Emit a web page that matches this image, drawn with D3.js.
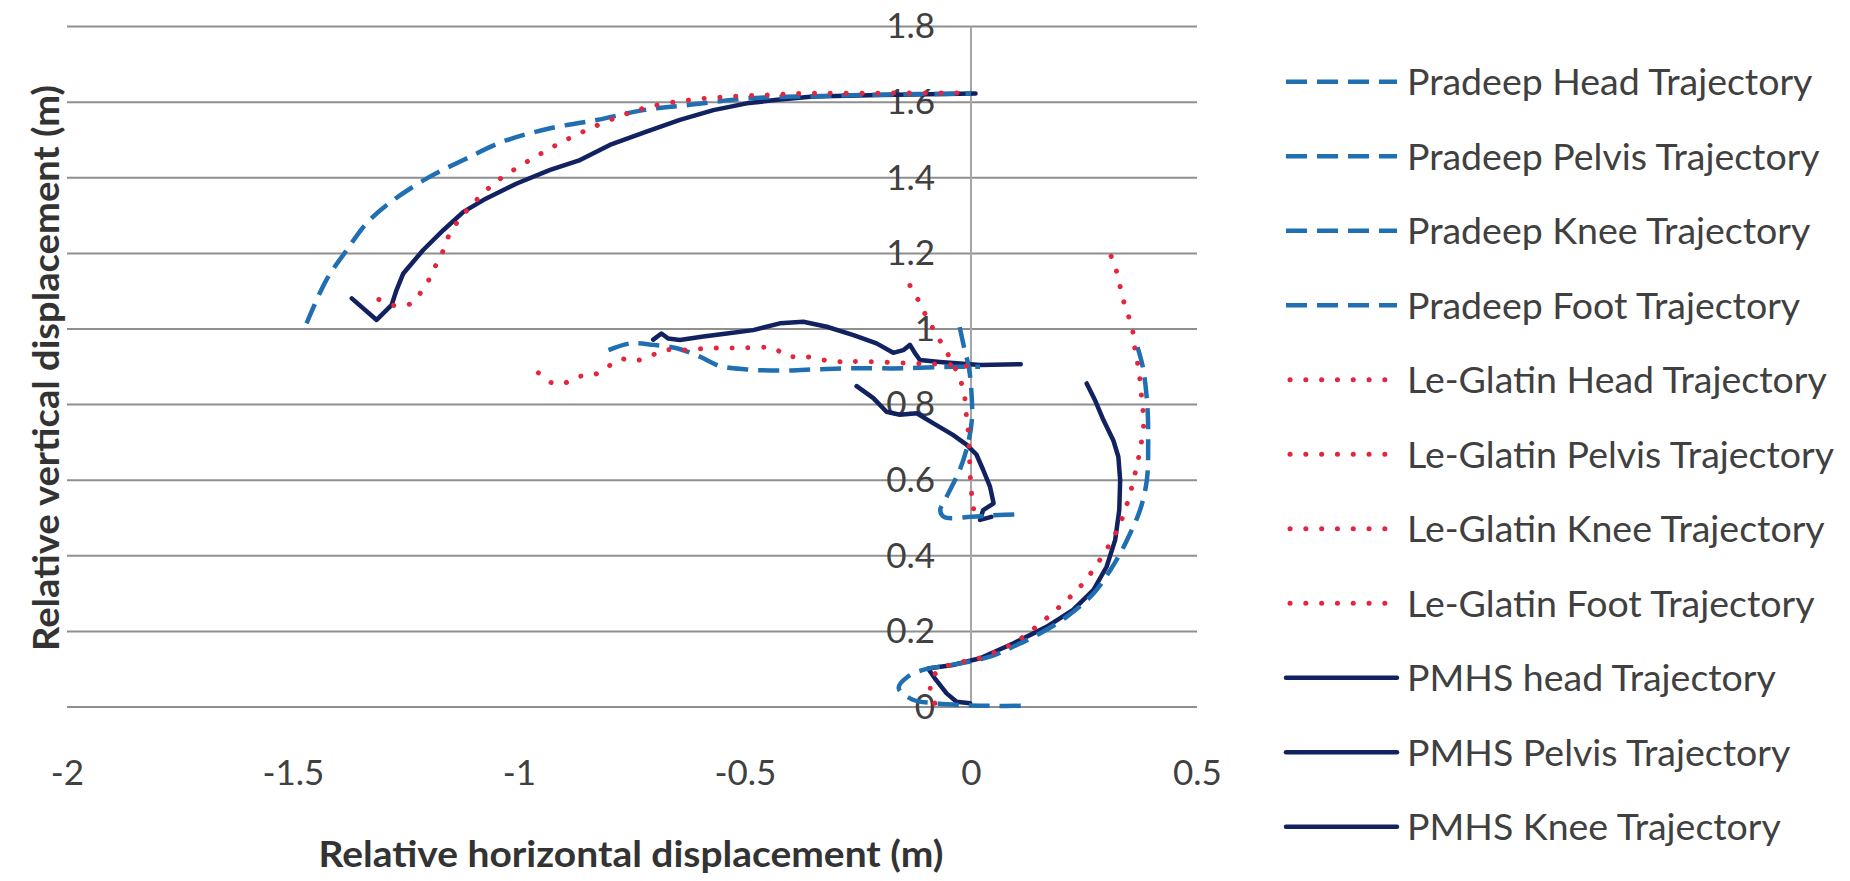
<!DOCTYPE html>
<html><head><meta charset="utf-8">
<script src="https://cdn.jsdelivr.net/npm/d3@7"></script>
<style>html,body{margin:0;padding:0;background:#fff;overflow:hidden}</style>
</head><body>
<svg id="c" width="1850" height="881"></svg>
<script>
// ---------- data ----------
const xTickValues = [-2, -1.5, -1, -0.5, 0, 0.5];
const yTickValues = [0, 0.2, 0.4, 0.6, 0.8, 1, 1.2, 1.4, 1.6, 1.8];

const pradeepHead = [[-1.47,1.015],[-1.426,1.13],[-1.381,1.209],[-1.337,1.28],[-1.278,1.341],[-1.197,1.403],[-1.123,1.447],[-1.035,1.496],[-0.931,1.531],[-0.828,1.553],[-0.725,1.579],[-0.622,1.593],[-0.496,1.61],[-0.35,1.616],[-0.2,1.62],[0,1.623]];
const pradeepPelvis = [[-0.802,0.944],[-0.754,0.962],[-0.703,0.958],[-0.651,0.949],[-0.6,0.927],[-0.555,0.902],[-0.496,0.893],[-0.423,0.89],[-0.349,0.893],[-0.26,0.896],[-0.15,0.896],[-0.04,0.9],[0.02,0.9]];
const pradeepKnee = [[-0.025,1.005],[-0.015,0.95],[-0.005,0.9],[0,0.85],[0.002,0.76],[-0.008,0.69],[-0.025,0.627],[-0.054,0.556],[-0.068,0.52],[-0.06,0.503],[0,0.503],[0.05,0.507],[0.11,0.51]];
const pradeepFoot = [[0.11,0.003],[0.05,0.003],[0,0.004],[-0.08,0.01],[-0.13,0.02],[-0.16,0.05],[-0.14,0.08],[-0.1,0.1],[-0.04,0.112],[0.042,0.133],[0.094,0.16],[0.153,0.195],[0.212,0.239],[0.271,0.3],[0.308,0.362],[0.33,0.406],[0.352,0.459],[0.374,0.521],[0.389,0.6],[0.392,0.7],[0.39,0.8],[0.38,0.9],[0.365,0.965]];

const leGlatinHead = [[-1.31,1.078],[-1.275,1.062],[-1.238,1.068],[-1.216,1.099],[-1.197,1.135],[-1.182,1.174],[-1.167,1.209],[-1.153,1.253],[-1.125,1.3],[-1.094,1.341],[-1.064,1.376],[-1.035,1.403],[-0.976,1.447],[-0.917,1.487],[-0.858,1.522],[-0.792,1.556],[-0.718,1.586],[-0.622,1.606],[-0.533,1.615],[-0.452,1.619],[-0.378,1.623],[-0.2,1.624],[0,1.624]];
const leGlatinPelvis = [[-0.957,0.884],[-0.928,0.858],[-0.902,0.856],[-0.869,0.874],[-0.836,0.878],[-0.806,0.898],[-0.777,0.92],[-0.743,0.916],[-0.71,0.928],[-0.68,0.944],[-0.644,0.944],[-0.577,0.949],[-0.507,0.95],[-0.437,0.949],[-0.407,0.928],[-0.371,0.928],[-0.304,0.914],[-0.238,0.914],[-0.128,0.909],[-0.04,0.905],[0.01,0.9]];
const leGlatinKnee = [[-0.135,1.115],[-0.117,1.077],[-0.102,1.041],[-0.084,1.001],[-0.067,0.966],[-0.05,0.931],[-0.035,0.896],[-0.02,0.852],[-0.013,0.812],[-0.01,0.768],[-0.006,0.728],[-0.003,0.65],[0,0.58],[0.005,0.53],[0.012,0.485]];
const leGlatinFoot = [[-0.08,0.01],[-0.09,0.045],[-0.085,0.08],[-0.05,0.11],[0.02,0.13],[0.093,0.168],[0.153,0.221],[0.204,0.274],[0.248,0.327],[0.285,0.389],[0.308,0.433],[0.33,0.486],[0.348,0.548],[0.363,0.618],[0.374,0.68],[0.382,0.75],[0.378,0.812],[0.371,0.892],[0.363,0.944],[0.356,1.006],[0.341,1.059],[0.33,1.112],[0.319,1.165],[0.304,1.209]];

const pmhsHead = [[-1.37,1.081],[-1.315,1.024],[-1.282,1.063],[-1.271,1.103],[-1.256,1.147],[-1.212,1.209],[-1.167,1.262],[-1.123,1.31],[-1.079,1.341],[-1.005,1.385],[-0.931,1.421],[-0.865,1.447],[-0.799,1.487],[-0.718,1.522],[-0.644,1.553],[-0.57,1.579],[-0.496,1.597],[-0.423,1.607],[-0.349,1.615],[-0.201,1.619],[0.01,1.623]];
const pmhsPelvis = [[-0.703,0.972],[-0.685,0.988],[-0.67,0.975],[-0.644,0.971],[-0.592,0.98],[-0.54,0.988],[-0.482,0.997],[-0.423,1.015],[-0.371,1.019],[-0.319,1.006],[-0.26,0.984],[-0.209,0.962],[-0.172,0.937],[-0.15,0.944],[-0.135,0.958],[-0.124,0.936],[-0.113,0.918],[-0.069,0.913],[0.02,0.905],[0.11,0.907]];
const pmhsKnee = [[-0.253,0.849],[-0.216,0.817],[-0.187,0.781],[-0.157,0.773],[-0.12,0.777],[-0.084,0.751],[-0.04,0.72],[-0.01,0.694],[0.012,0.668],[0.027,0.627],[0.042,0.583],[0.05,0.539],[0.027,0.521],[0.02,0.495],[0.045,0.503]];
const pmhsFoot = [[-0.002,0.01],[-0.032,0.014],[-0.054,0.036],[-0.077,0.071],[-0.095,0.102],[-0.04,0.111],[0.02,0.129],[0.093,0.168],[0.167,0.212],[0.226,0.257],[0.271,0.31],[0.3,0.371],[0.319,0.442],[0.328,0.521],[0.33,0.6],[0.326,0.662],[0.315,0.705],[0.293,0.759],[0.275,0.81],[0.256,0.856]];

const seriesNames = ["Pradeep Head Trajectory","Pradeep Pelvis Trajectory","Pradeep Knee Trajectory","Pradeep Foot Trajectory",
  "Le-Glatin Head Trajectory","Le-Glatin Pelvis Trajectory","Le-Glatin Knee Trajectory","Le-Glatin Foot Trajectory",
  "PMHS head  Trajectory","PMHS Pelvis Trajectory","PMHS Knee Trajectory","PMHS Foot Trajectory"];
const seriesGroups = ["pradeep","pradeep","pradeep","pradeep","leglatin","leglatin","leglatin","leglatin","pmhs","pmhs","pmhs","pmhs"];
const seriesValues = [pradeepHead,pradeepPelvis,pradeepKnee,pradeepFoot,leGlatinHead,leGlatinPelvis,leGlatinKnee,leGlatinFoot,pmhsHead,pmhsPelvis,pmhsKnee,pmhsFoot];
const legendCount = 11; // the last entry is cut off by the picture edge

// ---------- styles ----------
const styles = {
  pradeep: {color:"#1f6fb2", width:4.5, dash:"21 10", cap:"butt"},
  leglatin:{color:"#e3263d", width:5,   dash:"0.1 15.7", cap:"round"},
  pmhs:    {color:"#122160", width:4.5, dash:null, cap:"round"}
};
const FONT = "Lato, 'Open Sans', sans-serif";
const TXT = "#404040";

const svg = d3.select("#c");
const x = d3.scaleLinear().domain([-2, 0.5]).range([67, 1197]);
const y = d3.scaleLinear().domain([0, 1.8]).range([707, 26.6]);

// gridlines
svg.append("g").selectAll("line").data(yTickValues).join("line")
  .attr("x1", x(-2)).attr("x2", x(0.5))
  .attr("y1", d => y(d)).attr("y2", d => y(d))
  .attr("stroke", "#8f8f8f").attr("stroke-width", 2);

// vertical axis line at x = 0
svg.append("line").attr("x1", x(0)).attr("x2", x(0)).attr("y1", y(1.8)).attr("y2", y(0))
  .attr("stroke", "#a6a6a6").attr("stroke-width", 2);

// y tick labels
const yAxis = svg.append("g").attr("transform", `translate(${x(0)},0)`)
  .call(d3.axisLeft(y).tickValues(yTickValues).tickFormat(d => String(+d.toFixed(1))).tickSize(0).tickPadding(36));
yAxis.select(".domain").remove();
yAxis.selectAll("text").attr("font-family", FONT).attr("font-size", 35).attr("fill", TXT);

// x tick labels
const xAxis = svg.append("g").attr("transform", `translate(0,${y(0)})`)
  .call(d3.axisBottom(x).tickValues(xTickValues).tickFormat(d => String(d)).tickSize(0).tickPadding(53));
xAxis.select(".domain").remove();
xAxis.selectAll("text").attr("font-family", FONT).attr("font-size", 35).attr("fill", TXT);

// series (PMHS drawn first, then Pradeep, then Le-Glatin)
const drawOrder = [8,9,10,11,0,1,2,3,4,5,6,7];
const gS = svg.append("g");
drawOrder.forEach(i => {
  const st = styles[seriesGroups[i]];
  const line = d3.line().x(d => x(d[0])).y(d => y(d[1]))
    .curve(seriesGroups[i] === "pmhs" ? d3.curveLinear : d3.curveCatmullRom.alpha(0.5));
  gS.append("path").datum(seriesValues[i]).attr("d", line)
    .attr("fill", "none").attr("stroke", st.color).attr("stroke-width", st.width)
    .attr("stroke-linecap", st.cap).attr("stroke-linejoin", "round")
    .attr("stroke-dasharray", st.dash);
});

// axis titles
function fitText(sel, target) {
  const w = sel.node().getComputedTextLength();
  sel.attr("textLength", target).attr("lengthAdjust", "spacingAndGlyphs");
  return target / w;
}
const xt = svg.append("text").attr("x", 631).attr("y", 867).attr("text-anchor", "middle")
  .attr("font-family", FONT).attr("font-weight", "bold").attr("font-size", 36).attr("fill", "#333")
  .text("Relative horizontal displacement (m)");
fitText(xt, 625);
const yt = svg.append("text").attr("transform", "translate(59,368) rotate(-90)").attr("text-anchor", "middle")
  .attr("font-family", FONT).attr("font-weight", "bold").attr("font-size", 36).attr("fill", "#333")
  .text("Relative vertical displacement (m)");
fitText(yt, 566);

// legend
const lg = svg.append("g");
const rowY = i => 81.7 + 74.5 * i;
const items = d3.range(legendCount);
const texts = [];
items.forEach(i => {
  const st = styles[seriesGroups[i]];
  const yy = rowY(i);
  const x1 = seriesGroups[i] === "leglatin" ? 1290 : 1286;
  const x2 = seriesGroups[i] === "leglatin" ? 1386 : 1397;
  lg.append("line").attr("x1", x1).attr("x2", x2).attr("y1", yy).attr("y2", yy)
    .attr("stroke", st.color).attr("stroke-width", st.width)
    .attr("stroke-linecap", st.cap).attr("stroke-dasharray", st.dash);
  texts.push(lg.append("text").attr("x", 1407).attr("y", yy + 13.3)
    .attr("font-family", FONT).attr("font-size", 36).attr("fill", TXT).text(seriesNames[i]));
});
// uniform horizontal fit based on the longest label
const refW = texts[5].node().getComputedTextLength();
const k = 427 / refW;
texts.forEach(t => {
  const w = t.node().getComputedTextLength();
  t.attr("textLength", w * k).attr("lengthAdjust", "spacingAndGlyphs");
});
</script>
</body></html>
